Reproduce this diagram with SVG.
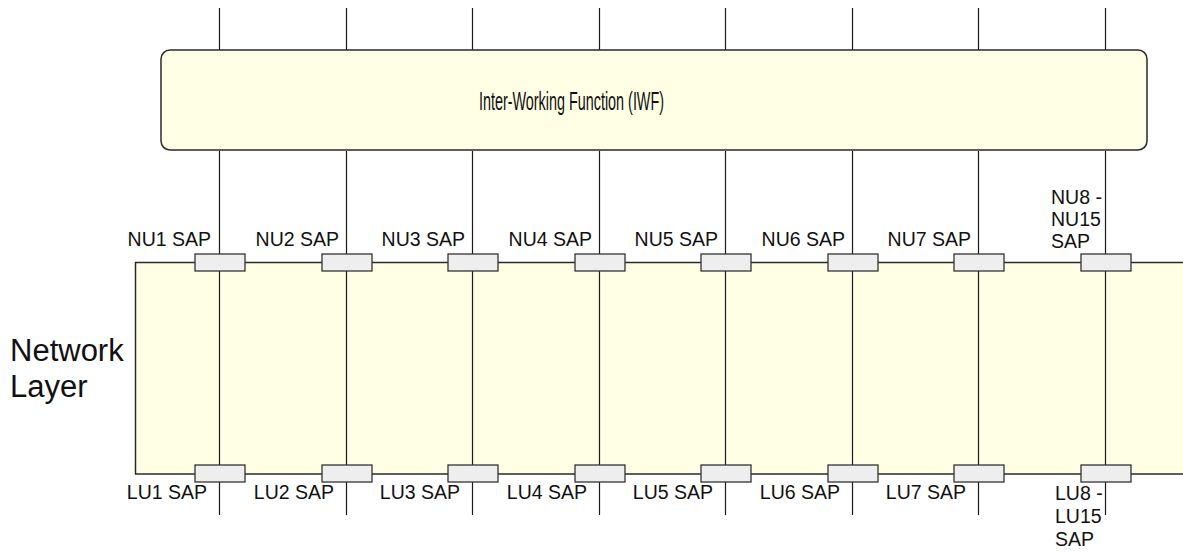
<svg xmlns="http://www.w3.org/2000/svg" width="1183" height="552" viewBox="0 0 1183 552">
<style>
.ln{stroke:#1a1a1a;stroke-width:1.2;fill:none}
.box{fill:#ffffe6;stroke:#2a2a2a;stroke-width:1.5}
.sap{fill:#eeeeee;stroke:#333;stroke-width:1.3}
.t{font-family:"Liberation Sans",Arial,sans-serif;fill:#111}
.lbl{font-size:19.5px;text-anchor:end}
.ml{font-size:19.5px}
</style>
<rect width="1183" height="552" fill="#fff"/>
<g id="network-layer">
<rect class="box" x="135.5" y="262.5" width="1060" height="211.5"/>
<text class="t" x="10" y="361" font-size="31">Network</text>
<text class="t" x="10" y="397" font-size="31">Layer</text>
</g>
<g id="connectors">
<path class="ln" d="M219.5 8V50M346.5 8V50M472.5 8V50M599.5 8V50M725.5 8V50M852.5 8V50M978.5 8V50M1105.5 8V50"/>
<path class="ln" d="M219.5 151V515M346.5 151V515M472.5 151V515M599.5 151V515M725.5 151V515M852.5 151V515M978.5 151V515M1105.5 151V515"/>
</g>
<g id="iwf">
<rect class="box" x="161" y="50" width="986" height="100" rx="9"/>
<text class="t" x="479" y="110" font-size="26" textLength="185" lengthAdjust="spacingAndGlyphs">Inter-Working Function (IWF)</text>
</g>
<g id="nu-saps">
<g id="nu1"><rect class="sap" x="195" y="254" width="50" height="17"/><text class="t lbl" x="211" y="246">NU1 SAP</text></g>
<g id="nu2"><rect class="sap" x="322" y="254" width="50" height="17"/><text class="t lbl" x="339" y="246">NU2 SAP</text></g>
<g id="nu3"><rect class="sap" x="448" y="254" width="50" height="17"/><text class="t lbl" x="465" y="246">NU3 SAP</text></g>
<g id="nu4"><rect class="sap" x="575" y="254" width="50" height="17"/><text class="t lbl" x="592" y="246">NU4 SAP</text></g>
<g id="nu5"><rect class="sap" x="701" y="254" width="50" height="17"/><text class="t lbl" x="718" y="246">NU5 SAP</text></g>
<g id="nu6"><rect class="sap" x="828" y="254" width="50" height="17"/><text class="t lbl" x="845" y="246">NU6 SAP</text></g>
<g id="nu7"><rect class="sap" x="954" y="254" width="50" height="17"/><text class="t lbl" x="971" y="246">NU7 SAP</text></g>
<g id="nu8"><rect class="sap" x="1081" y="254" width="50" height="17"/><text class="t ml" x="1051" y="204">NU8 -</text><text class="t ml" x="1051" y="226">NU15</text><text class="t ml" x="1051" y="248">SAP</text></g>
</g>
<g id="lu-saps">
<g id="lu1"><rect class="sap" x="195" y="465" width="50" height="17"/><text class="t lbl" x="207" y="499">LU1 SAP</text></g>
<g id="lu2"><rect class="sap" x="322" y="465" width="50" height="17"/><text class="t lbl" x="334" y="499">LU2 SAP</text></g>
<g id="lu3"><rect class="sap" x="448" y="465" width="50" height="17"/><text class="t lbl" x="460" y="499">LU3 SAP</text></g>
<g id="lu4"><rect class="sap" x="575" y="465" width="50" height="17"/><text class="t lbl" x="587" y="499">LU4 SAP</text></g>
<g id="lu5"><rect class="sap" x="701" y="465" width="50" height="17"/><text class="t lbl" x="713" y="499">LU5 SAP</text></g>
<g id="lu6"><rect class="sap" x="828" y="465" width="50" height="17"/><text class="t lbl" x="840" y="499">LU6 SAP</text></g>
<g id="lu7"><rect class="sap" x="954" y="465" width="50" height="17"/><text class="t lbl" x="966" y="499">LU7 SAP</text></g>
<g id="lu8"><rect class="sap" x="1081" y="465" width="50" height="17"/><text class="t ml" x="1055" y="500">LU8 -</text><text class="t ml" x="1055" y="523">LU15</text><text class="t ml" x="1055" y="546">SAP</text></g>
</g>
</svg>
